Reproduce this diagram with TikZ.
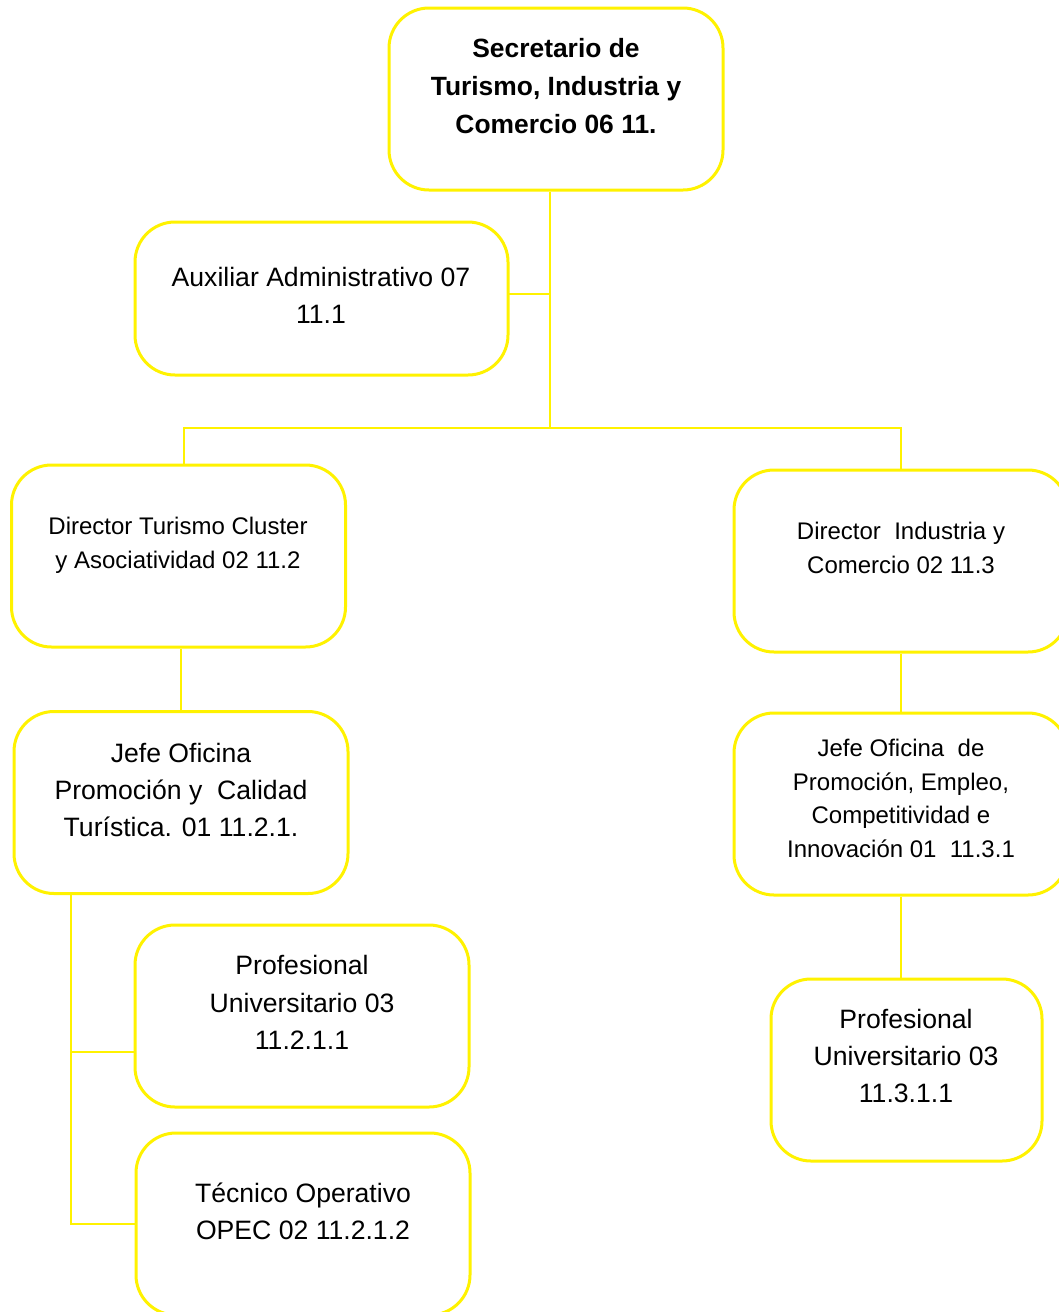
\documentclass[tikz,border=0pt]{standalone}
\usepackage{fontspec}
\setmainfont{Liberation Sans}
\usepackage{tikz}
\usetikzlibrary{positioning}

\tikzset{
  box/.style={draw=yellow,line width=1.5pt,rounded corners=20pt,fill=white,
    minimum width=167pt,minimum height=91pt,inner sep=0pt},
  link/.style={draw=yellow,line width=1pt},
  bigtxt/.style={align=center,inner sep=0pt,font=\fontsize{13.3}{18.7}\selectfont},
  smalltxt/.style={align=center,inner sep=0pt,font=\fontsize{12}{17}\selectfont},
  headtxt/.style={align=center,inner sep=0pt,font=\fontsize{13.2}{19}\selectfont\bfseries}
}

\begin{document}
\begin{tikzpicture}[x=0.5pt,y=-0.5pt]
\useasboundingbox (0,0) rectangle (1059,1312);
\clip (0,0) rectangle (1059,1312);
\fill[white] (0,0) rectangle (1059,1312);

% boxes
\node[box] (sec) at (556,99) {};
\node[box,minimum width=186.5pt,minimum height=76.5pt] (aux) at (321.5,298.5) {};
\node[box] (dirT) at (178.5,556) {};
\node[box] (dirI) at (901,561) {};
\node[box] (jefeT) at (181,802.5) {};
\node[box] (jefeI) at (901,804) {};
\node[box] (profT) at (302,1016) {};
\node[box,minimum width=135.5pt] (profI) at (906.5,1070) {};
\node[box] (tec) at (303,1224) {};

% texts
\node[headtxt] (secL) at (556,86) {Secretario de\\Turismo, Industria y\\Comercio 06 11.};
\node[bigtxt] (auxL) at (321,295.5) {Auxiliar Administrativo 07\\11.1};
\node[smalltxt] (dirTL) at (178,545) {Director Turismo Cluster\\y Asociatividad 02 11.2};
\node[smalltxt] (dirIL) at (901,548) {Director\ \ Industria y\\Comercio 02 11.3};
\node[bigtxt] (jefeTL) at (181,790) {Jefe Oficina\\Promoción y\ \ Calidad\\Turística. 01 11.2.1.};
\node[smalltxt,font=\fontsize{12}{16.8}\selectfont] (jefeIL) at (901,798.5) {Jefe Oficina\ \ de\\Promoción, Empleo,\\Competitividad e\\Innovación 01\ \ 11.3.1};
\node[bigtxt] (profTL) at (302,1002.5) {Profesional\\Universitario 03\\11.2.1.1};
\node[bigtxt] (profIL) at (906,1056) {Profesional\\Universitario 03\\11.3.1.1};
\node[bigtxt] (tecL) at (303,1211.5) {Técnico Operativo\\OPEC 02 11.2.1.2};

% connectors
\coordinate (hub) at (550,428);
\coordinate (auxjoin) at (508,294);
\coordinate (spine) at (71,893);
\coordinate (profTjoin) at (135,1052);
\draw[link] (sec.south -| hub) -- (hub);
\draw[link] (auxjoin) -- (auxjoin -| hub);
\draw[link] (dirT.north -| 184,0) -- (hub -| 184,0) -- (hub -| dirI.north) -- (dirI.north);
\draw[link] (dirT.south -| jefeT.north) -- (jefeT.north);
\draw[link] (dirI.south) -- (jefeI.north);
\draw[link] (jefeI.south) -- (jefeI.south |- profI.north);
\draw[link] (spine) |- (tec.west);
\draw[link] (spine |- profTjoin) -- (profTjoin);
\end{tikzpicture}
\end{document}
